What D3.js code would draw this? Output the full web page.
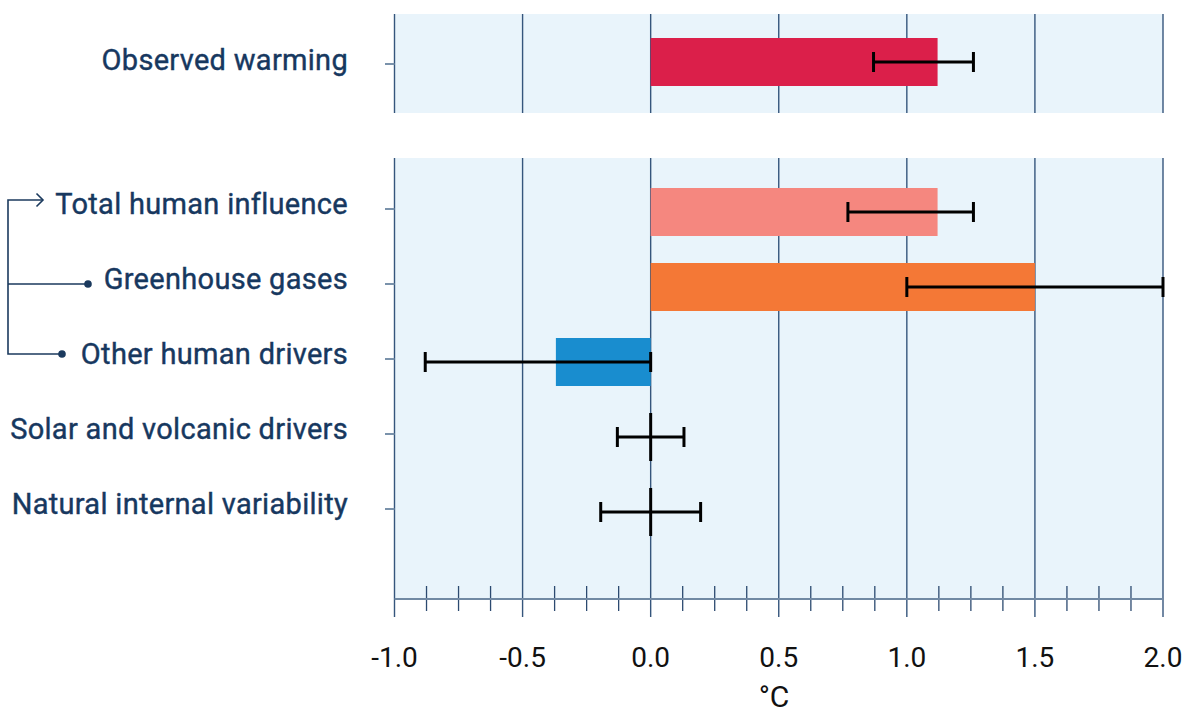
<!DOCTYPE html>
<html>
<head>
<meta charset="utf-8">
<script src="https://cdn.jsdelivr.net/npm/d3@7"></script>
<style>
  html, body { margin: 0; padding: 0; background: #fff; }
  svg { display: block; }
</style>
</head>
<body>
<svg id="chart" width="1191" height="713"></svg>
<script>
// ---- data ----
const topCategories = ["Observed warming"];
const topValues = [1.12];
const topLow = [0.87];
const topHigh = [1.26];

const categories = ["Total human influence", "Greenhouse gases", "Other human drivers",
                    "Solar and volcanic drivers", "Natural internal variability"];
const values = [1.12, 1.5, -0.37, 0, 0];
const lowValues = [0.77, 1.0, -0.88, -0.13, -0.195];
const highValues = [1.26, 2.0, 0.0, 0.13, 0.195];

const xTickValues = [-1.0, -0.5, 0.0, 0.5, 1.0, 1.5, 2.0];
const xTickLabels = ["-1.0", "-0.5", "0.0", "0.5", "1.0", "1.5", "2.0"];
const unitLabel = "°C";

const barColors = {
  "Observed warming": "#db1f4a",
  "Total human influence": "#f5877f",
  "Greenhouse gases": "#f47836",
  "Other human drivers": "#198dcf"
};

// ---- layout ----
const svg = d3.select("#chart");
const bg = "#e9f4fb";
const gridColor = "#35557c";
const textColor = "#17385f";
const font = "Roboto, 'DejaVu Sans', sans-serif";

const x = d3.scaleLinear().domain([-1, 2]).range([394.5, 1163]);

const topPanel = { y0: 14, y1: 113 };
const botPanel = { y0: 158, y1: 599 };

const yTop = d3.scalePoint().domain(topCategories).range([62, 62]);
const yBot = d3.scalePoint().domain(categories).range([212, 512]);
const barH = 48;

// backgrounds
[topPanel, botPanel].forEach(p => {
  svg.append("rect")
    .attr("x", x(-1)).attr("y", p.y0)
    .attr("width", x(2) - x(-1)).attr("height", p.y1 - p.y0)
    .attr("fill", bg);
});

// gridlines
xTickValues.forEach(v => {
  svg.append("line")
    .attr("x1", x(v)).attr("x2", x(v))
    .attr("y1", topPanel.y0).attr("y2", topPanel.y1)
    .attr("stroke", gridColor).attr("stroke-width", 1.4);
  svg.append("line")
    .attr("x1", x(v)).attr("x2", x(v))
    .attr("y1", botPanel.y0).attr("y2", 617)
    .attr("stroke", gridColor).attr("stroke-width", 1.4);
});

// minor ticks
const minor = d3.range(-1, 2.0001, 0.125).filter(v => Math.abs(v * 2 - Math.round(v * 2)) > 1e-6);
minor.forEach(v => {
  svg.append("line")
    .attr("x1", x(v)).attr("x2", x(v))
    .attr("y1", 586).attr("y2", 611)
    .attr("stroke", "#2c4a70").attr("stroke-width", 1.3);
});

// axis baseline
svg.append("line")
  .attr("x1", x(-1)).attr("x2", x(2))
  .attr("y1", botPanel.y1).attr("y2", botPanel.y1)
  .attr("stroke", "#7189a3").attr("stroke-width", 2);

// tick labels
svg.selectAll("text.xtick").data(xTickValues).enter().append("text")
  .attr("class", "xtick")
  .attr("x", d => x(d)).attr("y", 667)
  .attr("text-anchor", "middle")
  .attr("font-family", font).attr("font-size", 28)
  .attr("fill", "#111")
  .text((d, i) => xTickLabels[i]);

svg.append("text")
  .attr("x", 774).attr("y", 707)
  .attr("text-anchor", "middle")
  .attr("font-family", font).attr("font-size", 30)
  .attr("fill", "#111")
  .text(unitLabel);

// y ticks + labels
function drawRows(cats, yScale, tickDy, labelDy) {
  cats.forEach(c => {
    const cy = yScale(c);
    svg.append("line")
      .attr("x1", 385).attr("x2", x(-1))
      .attr("y1", cy + tickDy).attr("y2", cy + tickDy)
      .attr("stroke", "#7a92ab").attr("stroke-width", 2);
    svg.append("text")
      .attr("x", 348).attr("y", cy + labelDy)
      .attr("text-anchor", "end")
      .attr("font-family", font).attr("font-size", 29).attr("font-weight", 400)
      .attr("letter-spacing", 0.3)
      .attr("fill", textColor)
      .attr("stroke", textColor).attr("stroke-width", 0.4)
      .text(c);
  });
}
drawRows(topCategories, yTop, 2, 8);
drawRows(categories, yBot, -3, 2);

// bars + error bars
function drawBars(cats, vals, lows, highs, yScale) {
  cats.forEach((c, i) => {
    const cy = yScale(c);
    const v = vals[i];
    if (v !== 0) {
      svg.append("rect")
        .attr("x", Math.min(x(0), x(v)))
        .attr("y", cy - barH / 2)
        .attr("width", Math.abs(x(v) - x(0)))
        .attr("height", barH)
        .attr("fill", barColors[c]);
    } else {
      svg.append("line")
        .attr("x1", x(0)).attr("x2", x(0))
        .attr("y1", cy - barH / 2).attr("y2", cy + barH / 2)
        .attr("stroke", "#000").attr("stroke-width", 3);
    }
    const ey = cy;
    svg.append("line")
      .attr("x1", x(lows[i])).attr("x2", x(highs[i]))
      .attr("y1", ey).attr("y2", ey)
      .attr("stroke", "#000").attr("stroke-width", 3);
    [lows[i], highs[i]].forEach(e => {
      svg.append("line")
        .attr("x1", x(e)).attr("x2", x(e))
        .attr("y1", ey - 10).attr("y2", ey + 10)
        .attr("stroke", "#000").attr("stroke-width", 3);
    });
  });
}
drawBars(topCategories, topValues, topLow, topHigh, yTop);
drawBars(categories, values, lowValues, highValues, yBot);

// bracket connecting human drivers
const bx = 8;
const yT = yBot(categories[0]) - 12;
const yG = yBot(categories[1]) - 3;
const yO = yBot(categories[2]) - 8;
const lc = "#1b3a5e";
svg.append("path")
  .attr("d", `M43,${yT} L${bx},${yT} L${bx},${yO} L62,${yO} M${bx},${yG} L88,${yG}`)
  .attr("fill", "none").attr("stroke", lc).attr("stroke-width", 1.6);
svg.append("path")
  .attr("d", `M36.5,${yT - 6.5} L43,${yT} L36.5,${yT + 6.5}`)
  .attr("fill", "none").attr("stroke", lc).attr("stroke-width", 1.6);
svg.append("circle").attr("cx", 88).attr("cy", yG).attr("r", 3.8).attr("fill", lc);
svg.append("circle").attr("cx", 62).attr("cy", yO).attr("r", 3.8).attr("fill", lc);
</script>
</body>
</html>
